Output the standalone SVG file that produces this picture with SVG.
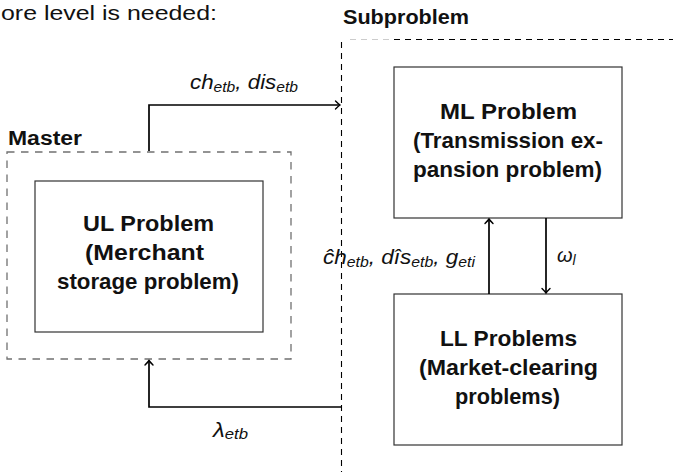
<svg xmlns="http://www.w3.org/2000/svg" width="673" height="472" viewBox="0 0 673 472">
  <style>
    .box { fill: #ffffff; stroke: #333333; stroke-width: 1.2; }
    .nodetext { font-family: "Liberation Sans", Arial, sans-serif; font-weight: bold; font-size: 22.5px; fill: #111111; }
    .head { font-family: "Liberation Sans", Arial, sans-serif; font-weight: bold; font-size: 20px; fill: #111111; }
    .plain { font-family: "Liberation Sans", Arial, sans-serif; font-size: 20px; fill: #111111; }
    .math { font-family: "Liberation Sans", Arial, sans-serif; font-style: italic; font-size: 20px; fill: #111111; }
    .sub { font-size: 14px; }
    .conn { fill: none; stroke: #000000; stroke-width: 1.7; }
    .subdash { fill: none; stroke: #000000; stroke-width: 1.1; stroke-dasharray: 6 5; }
    .masterdash { fill: none; stroke: #707070; stroke-width: 1.3; stroke-dasharray: 7.5 6.5; }
  </style>
  <defs>
    <marker id="arrow" markerUnits="userSpaceOnUse" markerWidth="12" markerHeight="12" refX="0" refY="0" viewBox="-6 -6 12 12" orient="auto">
      <path d="M -4.5 -4 Q -1.5 -1 0 0 Q -1.5 1 -4.5 4" fill="none" stroke="#000000" stroke-width="1.4" stroke-linecap="round"/>
    </marker>
  </defs>

  <rect x="0" y="0" width="673" height="472" fill="#ffffff"/>

  <text id="intro-text" class="plain" x="1" y="19.5" textLength="216" lengthAdjust="spacingAndGlyphs">ore level is needed:</text>

  <g id="node-subproblem">
    <line class="subdash" x1="341.5" y1="42" x2="341.5" y2="472"/>
    <line x1="350" y1="39.5" x2="392" y2="39.5" stroke="#cccccc" stroke-width="1.1" stroke-dasharray="6 5"/>
    <line class="subdash" x1="394" y1="39.5" x2="673" y2="39.5"/>
    <text class="head" x="343" y="24" textLength="126" lengthAdjust="spacingAndGlyphs">Subproblem</text>
  </g>

  <g id="node-master">
    <rect class="masterdash" x="7" y="152" width="284" height="207"/>
    <text class="head" x="8" y="145" textLength="74" lengthAdjust="spacingAndGlyphs">Master</text>
  </g>

  <g id="node-ul">
    <rect class="box" x="35" y="181" width="228" height="151"/>
    <text class="nodetext" x="83" y="231" textLength="131" lengthAdjust="spacingAndGlyphs">UL Problem</text>
    <text class="nodetext" x="85" y="260" textLength="119" lengthAdjust="spacingAndGlyphs">(Merchant</text>
    <text class="nodetext" x="57" y="289" textLength="182" lengthAdjust="spacingAndGlyphs">storage problem)</text>
  </g>

  <g id="node-ml">
    <rect class="box" x="394" y="67" width="228" height="151"/>
    <text class="nodetext" x="440" y="119" textLength="137" lengthAdjust="spacingAndGlyphs">ML Problem</text>
    <text class="nodetext" x="413" y="148" textLength="190" lengthAdjust="spacingAndGlyphs">(Transmission ex-</text>
    <text class="nodetext" x="413" y="177" textLength="189" lengthAdjust="spacingAndGlyphs">pansion problem)</text>
  </g>

  <g id="node-ll">
    <rect class="box" x="394" y="294" width="228" height="151"/>
    <text class="nodetext" x="440" y="346" textLength="137" lengthAdjust="spacingAndGlyphs">LL Problems</text>
    <text class="nodetext" x="419" y="375" textLength="179" lengthAdjust="spacingAndGlyphs">(Market-clearing</text>
    <text class="nodetext" x="455" y="404" textLength="105" lengthAdjust="spacingAndGlyphs">problems)</text>
  </g>

  <g id="connectors">
    <path class="conn" d="M 149 151 V 105 H 340" marker-end="url(#arrow)"/>
    <path class="conn" d="M 341 407 H 149 V 360.5" marker-end="url(#arrow)"/>
    <path class="conn" d="M 489 294 V 219" marker-end="url(#arrow)"/>
    <path class="conn" d="M 546 218 V 293" marker-end="url(#arrow)"/>

    <text class="math" x="190" y="89" textLength="108" lengthAdjust="spacingAndGlyphs">ch<tspan class="sub" dy="3">etb</tspan><tspan dy="-3">, dis</tspan><tspan class="sub" dy="3">etb</tspan></text>
    <text class="math" x="323" y="264" textLength="152" lengthAdjust="spacingAndGlyphs">ĉh<tspan class="sub" dy="3">etb</tspan><tspan dy="-3">, dîs</tspan><tspan class="sub" dy="3">etb</tspan><tspan dy="-3">, g</tspan><tspan class="sub" dy="3">eti</tspan></text>
    <text class="math" x="557" y="262">ω<tspan class="sub" dy="3">l</tspan></text>
    <text class="math" x="213" y="437" textLength="35" lengthAdjust="spacingAndGlyphs">λ<tspan class="sub" dy="2">etb</tspan></text>
  </g>
</svg>
